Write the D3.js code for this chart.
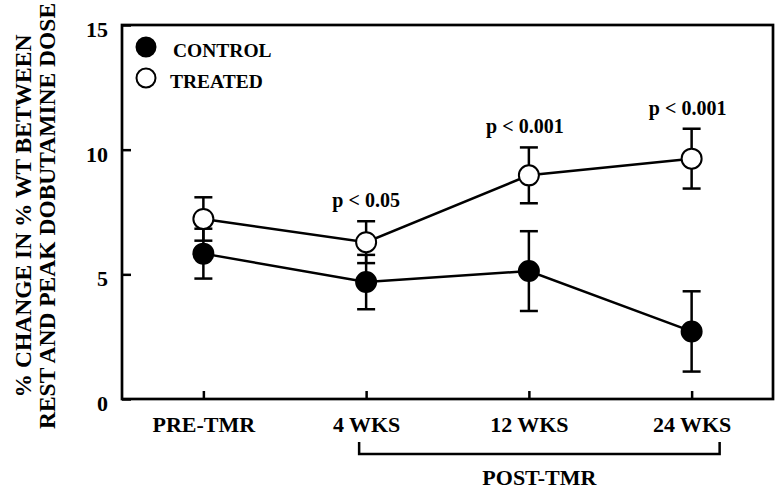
<!DOCTYPE html>
<html>
<head>
<meta charset="utf-8">
<script src="https://cdn.jsdelivr.net/npm/d3@7"></script>
<style>
  body { margin: 0; background: #fff; }
  svg text { font-family: "Liberation Serif", "Times New Roman", serif; font-weight: bold; fill: #000; }
</style>
</head>
<body>
<div id="chart"></div>
<script>
// chart values
var categories = ["PRE-TMR", "4 WKS", "12 WKS", "24 WKS"];
var controlMean = [5.83, 4.69, 5.13, 2.71];
var controlErr = [1.0, 1.09, 1.6, 1.61];
var treatedMean = [7.22, 6.29, 8.97, 9.64];
var treatedErr = [0.87, 0.84, 1.12, 1.2];
var pLabels = ["", "p < 0.05", "p < 0.001", "p < 0.001"];
var yTicks = [0, 5, 10, 15];

window.onload = function() {

  var width = 782, height = 493;
  var plotLeft = 122, plotRight = 773, plotTop = 25, plotBottom = 399;

  var svg = d3.select("#chart").append("svg")
      .attr("width", width)
      .attr("height", height);

  var x = d3.scalePoint()
      .domain(categories)
      .range([plotLeft, plotRight])
      .padding(0.5);

  var y = d3.scaleLinear()
      .domain([0, 15])
      .range([plotBottom, plotTop]);

  // box round the plot
  svg.append("rect")
      .attr("x", plotLeft)
      .attr("y", plotTop)
      .attr("width", plotRight - plotLeft)
      .attr("height", plotBottom - plotTop)
      .attr("fill", "none")
      .attr("stroke", "#000")
      .attr("stroke-width", 2.7);

  // x axis, ticks pointing in
  var xAxis = svg.append("g")
      .attr("transform", "translate(0," + plotBottom + ")")
      .call(d3.axisBottom(x).tickSizeInner(-8).tickSizeOuter(0).tickPadding(17));
  xAxis.select(".domain").remove();
  xAxis.attr("font-family", null);
  xAxis.selectAll("line").attr("stroke-width", 2.5);
  xAxis.selectAll("text").style("font-size", "22px");

  // y axis
  var yAxis = svg.append("g")
      .attr("transform", "translate(" + plotLeft + ",0)")
      .call(d3.axisLeft(y).tickValues(yTicks).tickSizeInner(-9).tickSizeOuter(0).tickPadding(14));
  yAxis.select(".domain").remove();
  yAxis.attr("font-family", null);
  yAxis.selectAll("line").attr("stroke-width", 2.5);
  yAxis.selectAll("text").style("font-size", "22px").attr("dy", "0.52em");

  // y axis title, two lines
  var title = ["% CHANGE IN % WT BETWEEN", "REST AND PEAK DOBUTAMINE DOSE"];
  svg.selectAll(".ytitle")
      .data(title)
    .enter().append("text")
      .attr("class", "ytitle")
      .attr("transform", function(d, i) { return "translate(" + (31 + i * 24) + ",216) rotate(-90)"; })
      .attr("text-anchor", "middle")
      .style("font-size", "23.5px")
      .text(function(d) { return d; });

  // build series
  var series = [
    { name: "CONTROL", mean: controlMean, err: controlErr, fill: "#000" },
    { name: "TREATED", mean: treatedMean, err: treatedErr, fill: "#fff" }
  ];

  var line = d3.line()
      .x(function(d) { return x(d.cat); })
      .y(function(d) { return y(d.v); });

  series.forEach(function(s) {
    var pts = categories.map(function(c, i) { return { cat: c, v: s.mean[i], e: s.err[i] }; });
    var g = svg.append("g");

    // error bars
    var eb = g.selectAll(".err").data(pts).enter().append("g")
        .attr("stroke", "#000").attr("stroke-width", 2.5);
    eb.append("line")
      .attr("x1", function(d) { return x(d.cat); })
      .attr("x2", function(d) { return x(d.cat); })
      .attr("y1", function(d) { return y(d.v - d.e); })
      .attr("y2", function(d) { return y(d.v + d.e); });
    [-1, 1].forEach(function(sgn) {
      eb.append("line")
        .attr("x1", function(d) { return x(d.cat) - 9; })
        .attr("x2", function(d) { return x(d.cat) + 9; })
        .attr("y1", function(d) { return y(d.v + sgn * d.e); })
        .attr("y2", function(d) { return y(d.v + sgn * d.e); });
    });

    g.append("path")
      .datum(pts)
      .attr("d", line)
      .attr("fill", "none")
      .attr("stroke", "#000")
      .attr("stroke-width", 2.5);

    s.g = g;
    s.pts = pts;
  });

  // markers on top
  series.forEach(function(s) {
    s.g.selectAll("circle")
      .data(s.pts)
      .enter().append("circle")
      .attr("cx", function(d) { return x(d.cat); })
      .attr("cy", function(d) { return y(d.v); })
      .attr("r", 10)
      .attr("fill", s.fill)
      .attr("stroke", "#000")
      .attr("stroke-width", 2);
  });

  // p values over the treated points
  svg.selectAll(".pval")
      .data(categories)
    .enter().append("text")
      .attr("class", "pval")
      .attr("x", function(d, i) { return x(d) - (i > 1 ? 4 : 0); })
      .attr("y", function(d, i) { return y(treatedMean[i] + treatedErr[i]) - 14; })
      .attr("text-anchor", "middle")
      .style("font-size", "20px")
      .text(function(d, i) { return pLabels[i]; });

  // legend
  var legend = svg.selectAll(".legend")
      .data(series)
    .enter().append("g")
      .attr("class", "legend")
      .attr("transform", function(d, i) { return "translate(146," + (47 + i * 31) + ")"; });
  legend.append("circle")
      .attr("r", 9.5)
      .attr("fill", function(d) { return d.fill; })
      .attr("stroke", "#000")
      .attr("stroke-width", 2);
  legend.append("text")
      .attr("x", function(d, i) { return i === 0 ? 27 : 24; })
      .attr("y", 10)
      .style("font-size", "19.5px")
      .text(function(d) { return d.name; });

  // POST-TMR bracket
  var bx1 = x("4 WKS") - 7, bx2 = x("24 WKS") + 28;
  svg.append("path")
      .attr("d", "M" + bx1 + ",442 V454 H" + bx2 + " V442")
      .attr("fill", "none")
      .attr("stroke", "#000")
      .attr("stroke-width", 2.5);
  svg.append("text")
      .attr("x", (bx1 + bx2) / 2)
      .attr("y", 485)
      .attr("text-anchor", "middle")
      .style("font-size", "22px")
      .text("POST-TMR");
};
</script>
</body>
</html>
